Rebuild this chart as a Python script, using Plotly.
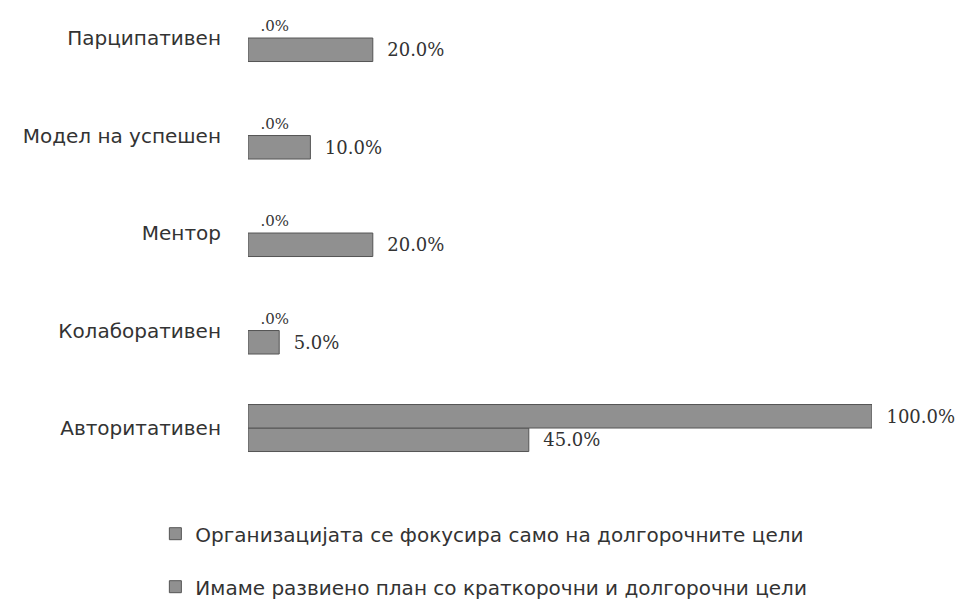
import plotly.graph_objects as go

# Leadership styles, listed bottom to top
categories = ["Авторитативен", "Колаборативен", "Ментор", "Модел на успешен", "Парципативен"]
series_long_term = "Организацијата се фокусира само на долгорочните цели"
series_plan = "Имаме развиено план со краткорочни и долгорочни цели"
values_long_term = [100.0, 0.0, 0.0, 0.0, 0.0]
values_plan = [45.0, 5.0, 20.0, 10.0, 20.0]


def pct_label(v):
    # "#.0%" style: zero shows as ".0%"; a little lead-in space before the number
    s = f"{v:.1f}%"
    s = s[1:] if s.startswith("0.") else s
    return "\u00a0\u00a0" + s


bar_fill = "#909090"
bar_edge = "#555555"
text_col = "#333333"


def bar_trace(values, name, group, rank):
    return go.Bar(
        y=categories, x=values, orientation="h", name=name,
        legendgroup=group, legendrank=rank,
        marker=dict(color=bar_fill,
                    line=dict(color=bar_edge, width=[1 if v > 0 else 0 for v in values])),
        text=[pct_label(v) for v in values], textposition="outside",
        textfont=dict(family="DejaVu Serif", color=text_col,
                      size=[18 if v > 0 else 15 for v in values]),
        cliponaxis=False,
    )


fig = go.Figure()
# In grouped horizontal bars the first trace sits lowest in each group
fig.add_trace(bar_trace(values_plan, series_plan, "b", 2))
fig.add_trace(bar_trace(values_long_term, series_long_term, "a", 1))

fig.update_layout(
    width=971, height=600,
    margin=dict(l=248, r=99, t=0, b=120, autoexpand=False),
    paper_bgcolor="white", plot_bgcolor="white",
    barmode="group", bargap=0.518, bargroupgap=0,
    showlegend=True,
    legend=dict(
        xref="container", yref="container", x=0.16, y=0.143,
        xanchor="left", yanchor="top",
        orientation="v", traceorder="grouped", tracegroupgap=24,
        font=dict(family="DejaVu Sans", size=20, color=text_col),
        itemwidth=30,
    ),
    xaxis=dict(range=[0, 100], visible=False, showgrid=False, zeroline=False,
               automargin=False),
    yaxis=dict(
        range=[-0.533, 4.39], showgrid=False, zeroline=False, showline=False,
        ticks="", ticklabelstandoff=26, automargin=False,
        tickfont=dict(family="DejaVu Sans", size=20, color=text_col),
    ),
)

fig.write_html("out.html")
